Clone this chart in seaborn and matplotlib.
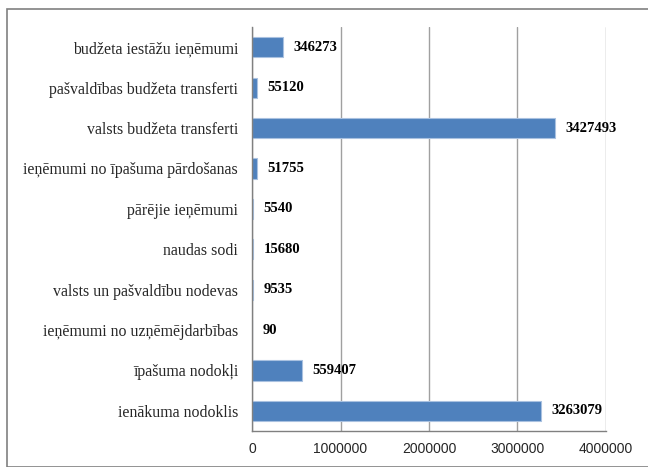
import numpy as np
import pandas as pd
import matplotlib
matplotlib.use('Agg')
import matplotlib.pyplot as plt
import seaborn as sns
from matplotlib.patches import Rectangle

# Data (top to bottom as in the chart)
categories = ['budžeta iestāžu ieņēmumi', 'pašvaldības budžeta transferti',
              'valsts budžeta transferti', 'ieņēmumi no īpašuma pārdošanas',
              'pārējie ieņēmumi', 'naudas sodi', 'valsts un pašvaldību nodevas',
              'ieņēmumi no uzņēmējdarbības', 'īpašuma nodokļi', 'ienākuma nodoklis']
values = [346273, 55120, 3427493, 51755, 5540, 15680, 9535, 90, 559407, 3263079]
x_ticks = [0, 1000000, 2000000, 3000000, 4000000]

df = pd.DataFrame({'kategorija': categories, 'summa': values})

sns.set_style('white')
fig = plt.figure(figsize=(6.48, 4.67), dpi=100)
ax = fig.add_axes([0.389, 0.077, 0.546, 0.865])

sns.barplot(data=df, x='summa', y='kategorija', orient='h', color='#4F81BD',
            edgecolor='#A9C1E0', linewidth=0.8, width=0.5, saturation=1, ax=ax)

# value labels at the bar ends
for i, v in enumerate(values):
    ax.text(v + 120000, i, str(v), va='center', ha='left', fontsize=10.5,
            fontweight='bold', family='Liberation Serif', color='black')

ax.set_xlim(0, 4000000)
ax.set_ylim(len(categories) - 0.5, -0.5)
ax.set_xticks(x_ticks)
ax.set_xticklabels([str(t) for t in x_ticks], family='Liberation Sans', fontsize=10)
ax.set_yticks(np.arange(len(categories)))
ax.set_yticklabels(categories, family='Liberation Serif', fontsize=11.4)
ax.tick_params(axis='y', length=0, pad=10)
ax.tick_params(axis='x', length=0, pad=8)
# small ticks at category boundaries and grid positions
ax.set_yticks(np.arange(-0.5, len(categories), 1), minor=True)
ax.tick_params(axis='y', which='minor', length=5, color='#808080', direction='out')
ax.set_xticks(x_ticks, minor=True)
ax.tick_params(axis='x', which='minor', length=5, color='#808080', direction='out')

ax.grid(axis='x', color='#A0A0A0', linewidth=1)
ax.set_axisbelow(True)
ax.set_xlabel('')
ax.set_ylabel('')
for s in ['top', 'right']:
    ax.spines[s].set_visible(False)
for s in ['left', 'bottom']:
    ax.spines[s].set_color('#808080')
    ax.spines[s].set_linewidth(1)

# outer frame
fig.patches.append(Rectangle((7 / 648, 0.0), 1.0, 1 - 9 / 467, transform=fig.transFigure,
                             fill=False, edgecolor='#808080', linewidth=1.2))

fig.savefig('out.png', dpi=100)
